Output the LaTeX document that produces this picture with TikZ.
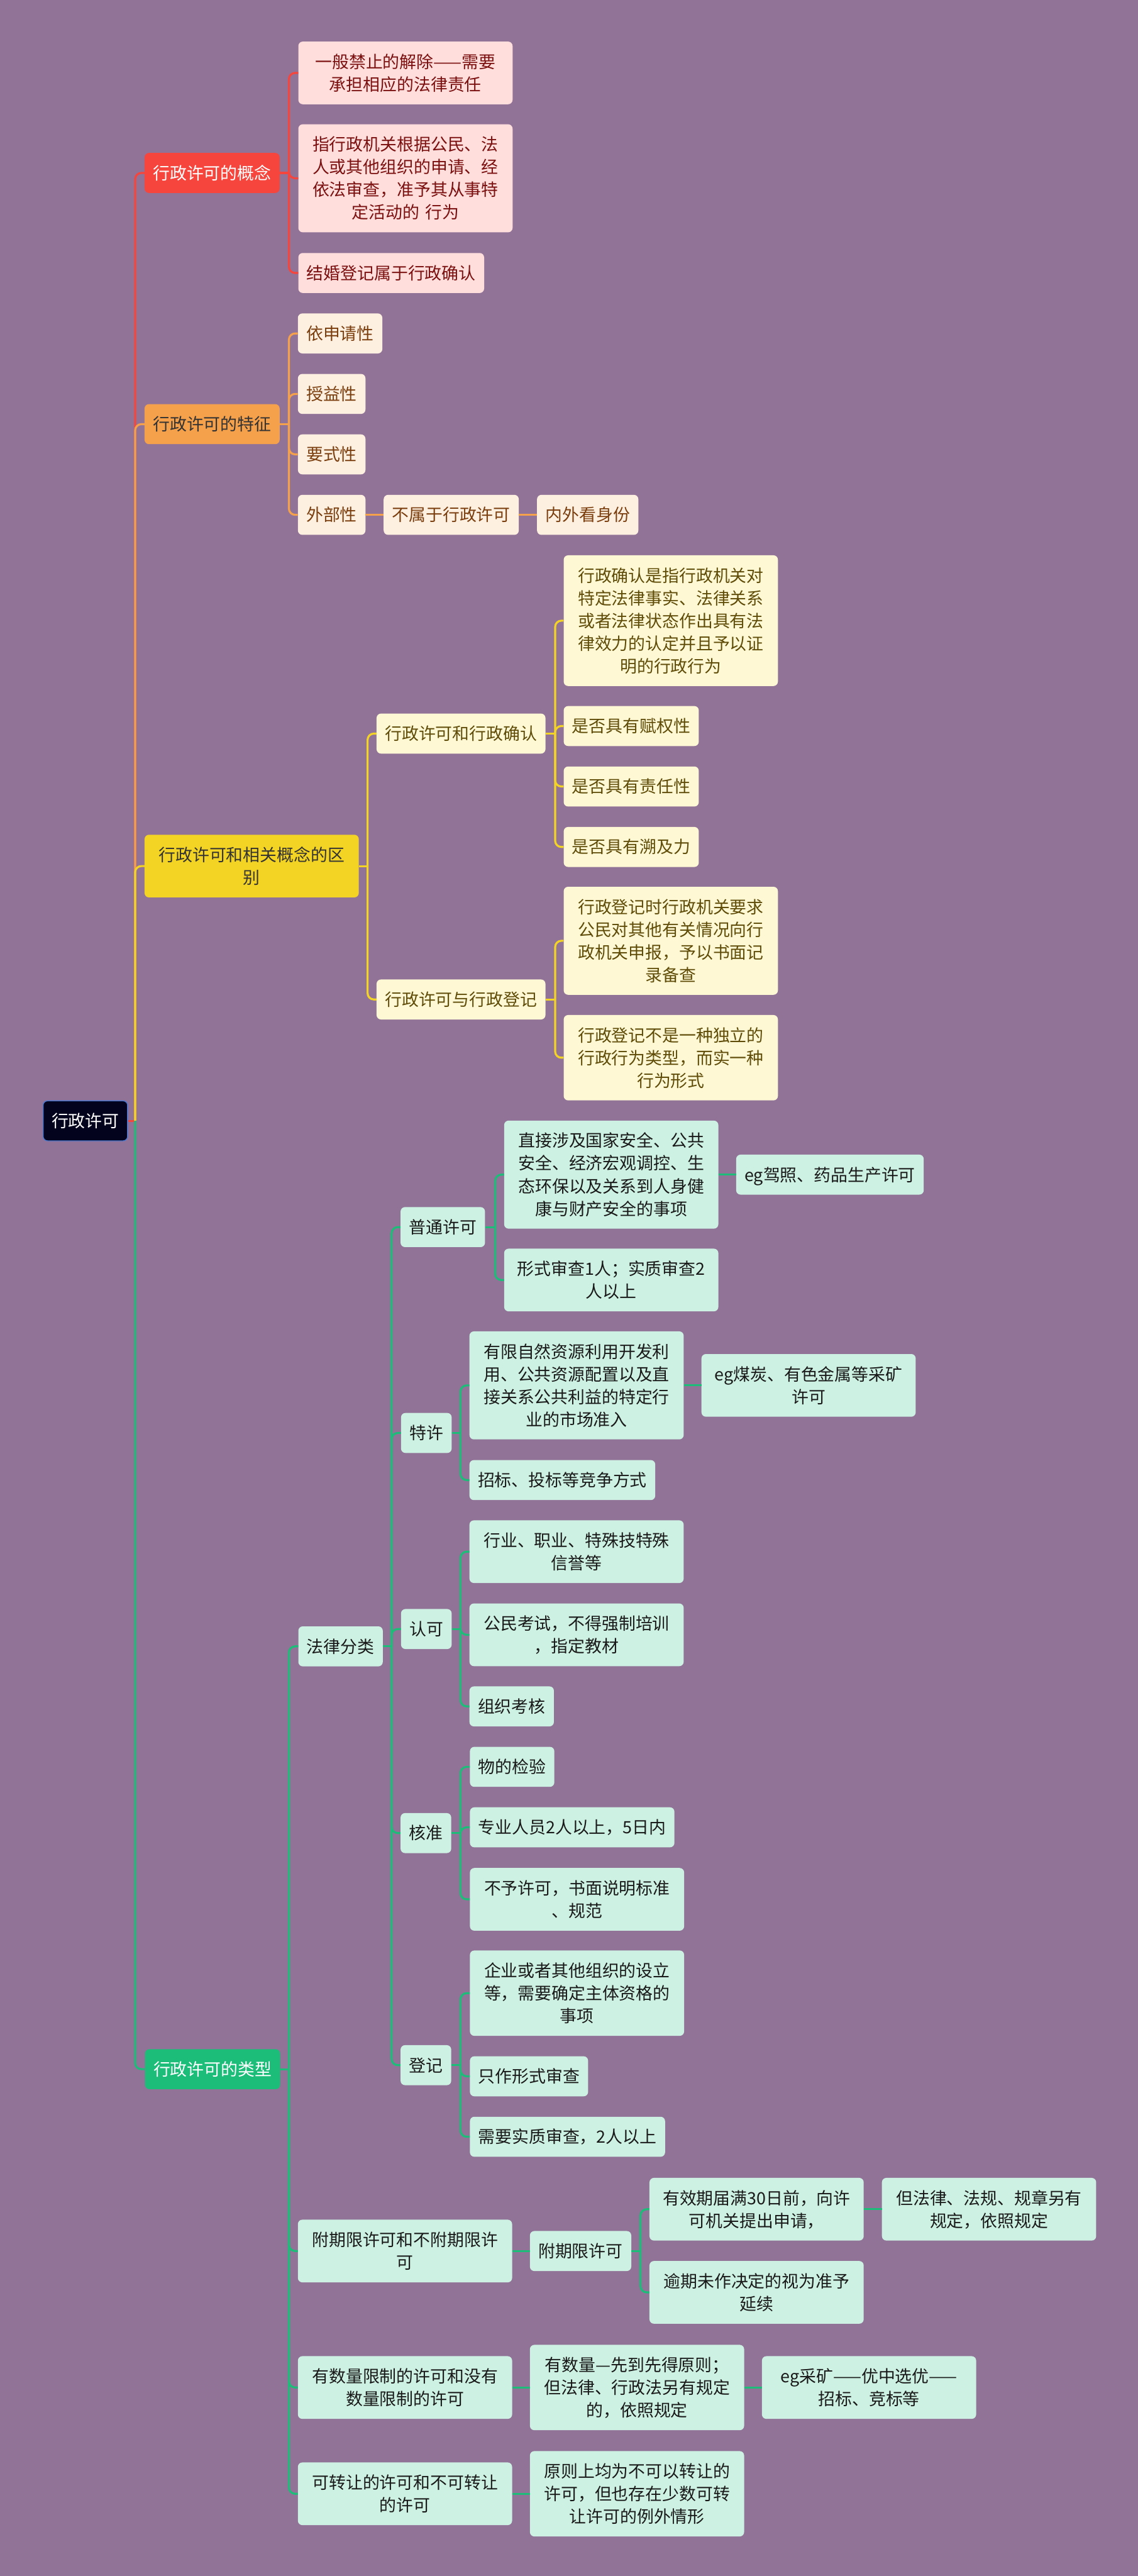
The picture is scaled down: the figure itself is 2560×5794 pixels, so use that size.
\documentclass[tikz,border=0pt]{standalone}
\usepackage{fontspec}
\newfontfamily\cjk{Noto Sans CJK SC}

\definecolor{bgc}{HTML}{927398}
\definecolor{redc}{HTML}{F5453D}
\definecolor{redfill}{HTML}{FFDEDC}
\definecolor{redtext}{HTML}{7B1010}
\definecolor{orc}{HTML}{F5A04B}
\definecolor{orfill}{HTML}{FEF0E0}
\definecolor{ortext}{HTML}{7A3E0E}
\definecolor{yec}{HTML}{F3D323}
\definecolor{yefill}{HTML}{FFF8D4}
\definecolor{yetext}{HTML}{5E4C08}
\definecolor{grc}{HTML}{1BBD79}
\definecolor{grfill}{HTML}{CDF2E3}
\definecolor{rootfill}{HTML}{03031E}
\definecolor{rootline}{HTML}{4A78CF}

\newcommand{\lnstrut}{\rule[-11pt]{0pt}{51pt}}

\begin{document}
\begin{tikzpicture}[x=1pt,y=-1pt,
  box/.style={rounded corners=10pt, inner xsep=19pt, inner ysep=19.5pt, anchor=west,
    font=\cjk\fontsize{38}{51}\selectfont,
    execute at begin node=\lnstrut, execute at end node=\lnstrut},
  wide/.style={text width=444pt, align=center},
  lnk/.style={line width=4.5pt, rounded corners=14pt},
  rootbox/.style={box, fill=rootfill, draw=rootline, line width=2pt, text=white},
  redbox/.style={box, fill=redc, text=white},
  redleaf/.style={box, fill=redfill, text=redtext},
  orbox/.style={box, fill=orc, text=black!80},
  orleaf/.style={box, fill=orfill, text=ortext},
  yebox/.style={box, fill=yec, text=black!80},
  yeleaf/.style={box, fill=yefill, text=yetext},
  grbox/.style={box, fill=grc, text=white},
  grleaf/.style={box, fill=grfill, text=black!90}]

  \fill[bgc] (0,0) rectangle (2560,5794);
  \useasboundingbox (0,0) rectangle (2560,5794);

  \coordinate (rtJ) at (304, 2521);
  \coordinate (gnJ) at (650, 389);
  \coordinate (tzJ) at (650, 954);
  \coordinate (qbJ) at (827, 1948);
  \coordinate (qb1J) at (1249, 1650);
  \coordinate (qb2J) at (1249, 2248);
  \coordinate (lxJ) at (650, 4654);
  \coordinate (lx1J) at (881, 3703);
  \coordinate (ptJ) at (1114, 2760);
  \coordinate (txJ) at (1036, 3223);
  \coordinate (rkJ) at (1036, 3664);
  \coordinate (hzJ) at (1036, 4123);
  \coordinate (djJ) at (1036, 4645);
  \coordinate (lx21J) at (1441, 5063);

  \node[rootbox] (rt) at (96, 2521) {行政许可};

  % concept
  \node[redbox] (gn) at (325, 389) {行政许可的概念};
  \node[redleaf, wide] (gn1) at (671, 164) {一般禁止的解除——需要\\承担相应的法律责任};
  \node[redleaf, wide] (gn2) at (671, 401) {指行政机关根据公民、法\\人或其他组织的申请、经\\依法审查，准予其从事特\\定活动的 行为};
  \node[redleaf] (gn3) at (671, 614) {结婚登记属于行政确认};

  % features
  \node[orbox] (tz) at (325, 954) {行政许可的特征};
  \node[orleaf] (tz1) at (670, 750) {依申请性};
  \node[orleaf] (tz2) at (670, 886) {授益性};
  \node[orleaf] (tz3) at (670, 1022) {要式性};
  \node[orleaf] (tz4) at (670, 1158) {外部性};
  \node[orleaf] (tz5) at (863, 1158) {不属于行政许可};
  \node[orleaf] (tz6) at (1208, 1158) {内外看身份};

  % differences
  \node[yebox, wide] (qb) at (325, 1948) {行政许可和相关概念的区\\别};
  \node[yeleaf] (qb1) at (847, 1650) {行政许可和行政确认};
  \node[yeleaf] (qb2) at (847, 2248) {行政许可与行政登记};
  \node[yeleaf, wide] (qb11) at (1268, 1396) {行政确认是指行政机关对\\特定法律事实、法律关系\\或者法律状态作出具有法\\律效力的认定并且予以证\\明的行政行为};
  \node[yeleaf] (qb12) at (1268, 1633) {是否具有赋权性};
  \node[yeleaf] (qb13) at (1268, 1769) {是否具有责任性};
  \node[yeleaf] (qb14) at (1268, 1905) {是否具有溯及力};
  \node[yeleaf, wide] (qb21) at (1268, 2116) {行政登记时行政机关要求\\公民对其他有关情况向行\\政机关申报，予以书面记\\录备查};
  \node[yeleaf, wide] (qb22) at (1268, 2379) {行政登记不是一种独立的\\行政行为类型，而实一种\\行为形式};

  % types
  \node[grbox] (lx) at (326, 4654) {行政许可的类型};
  \node[grleaf] (lx1) at (671, 3703) {法律分类};
  \node[grleaf, wide] (lx2) at (670, 5063) {附期限许可和不附期限许\\可};
  \node[grleaf, wide] (lx3) at (670, 5370) {有数量限制的许可和没有\\数量限制的许可};
  \node[grleaf, wide] (lx4) at (670, 5609) {可转让的许可和不可转让\\的许可};

  \node[grleaf] (pt) at (901, 2760) {普通许可};
  \node[grleaf, wide] (pt1) at (1134, 2642) {直接涉及国家安全、公共\\安全、经济宏观调控、生\\态环保以及关系到人身健\\康与财产安全的事项};
  \node[grleaf] (pt11) at (1656, 2642) {eg驾照、药品生产许可};
  \node[grleaf, wide] (pt2) at (1134, 2879) {形式审查1人；实质审查2\\人以上};

  \node[grleaf] (tx) at (902, 3223) {特许};
  \node[grleaf, wide] (tx1) at (1056, 3116) {有限自然资源利用开发利\\用、公共资源配置以及直\\接关系公共利益的特定行\\业的市场准入};
  \node[grleaf, wide] (tx11) at (1578, 3116) {eg煤炭、有色金属等采矿\\许可};
  \node[grleaf] (tx2) at (1056, 3329) {招标、投标等竞争方式};

  \node[grleaf] (rk) at (902, 3664) {认可};
  \node[grleaf, wide] (rk1) at (1056, 3490) {行业、职业、特殊技特殊\\信誉等};
  \node[grleaf, wide] (rk2) at (1056, 3677) {公民考试，不得强制培训\\，指定教材};
  \node[grleaf] (rk3) at (1056, 3838) {组织考核};

  \node[grleaf] (hz) at (901, 4123) {核准};
  \node[grleaf] (hz1) at (1057, 3974) {物的检验};
  \node[grleaf] (hz2) at (1057, 4110) {专业人员2人以上，5日内};
  \node[grleaf, wide] (hz3) at (1057, 4272) {不予许可，书面说明标准\\、规范};

  \node[grleaf] (dj) at (901, 4645) {登记};
  \node[grleaf, wide] (dj1) at (1057, 4483) {企业或者其他组织的设立\\等，需要确定主体资格的\\事项};
  \node[grleaf] (dj2) at (1057, 4670) {只作形式审查};
  \node[grleaf] (dj3) at (1057, 4806) {需要实质审查，2人以上};

  \node[grleaf] (lx21) at (1192, 5063) {附期限许可};
  \node[grleaf, wide] (lx211) at (1461, 4969) {有效期届满30日前，向许\\可机关提出申请，};
  \node[grleaf, wide] (lx2111) at (1984, 4969) {但法律、法规、规章另有\\规定，依照规定};
  \node[grleaf, wide] (lx212) at (1461, 5156) {逾期未作决定的视为准予\\延续};
  \node[grleaf, wide] (lx31) at (1192, 5370) {有数量—先到先得原则；\\但法律、行政法另有规定\\的，依照规定};
  \node[grleaf, wide] (lx311) at (1714, 5370) {eg采矿——优中选优——\\招标、竞标等};
  \node[grleaf, wide] (lx41) at (1192, 5609) {原则上均为不可以转让的\\许可，但也存在少数可转\\让许可的例外情形};

  % links
  \draw[lnk, redc] (rt.east) -- (rtJ);
  \draw[lnk, redc] (rtJ) |- (gn.west);
  \draw[lnk, redc] (gn.east) -- (gnJ);
  \draw[lnk, redc] (gnJ) |- (gn1.west);
  \draw[lnk, redc] (gnJ) |- (gn2.west);
  \draw[lnk, redc] (gnJ) |- (gn3.west);

  \draw[lnk, orc] (rtJ) |- (tz.west);
  \draw[lnk, orc] (tz.east) -- (tzJ);
  \draw[lnk, orc] (tzJ) |- (tz1.west);
  \draw[lnk, orc] (tzJ) |- (tz2.west);
  \draw[lnk, orc] (tzJ) |- (tz3.west);
  \draw[lnk, orc] (tzJ) |- (tz4.west);
  \draw[lnk, orc] (tz4.east) -- (tz5.west);
  \draw[lnk, orc] (tz5.east) -- (tz6.west);

  \draw[lnk, yec] (rtJ) |- (qb.west);
  \draw[lnk, yec] (qb.east) -- (qbJ);
  \draw[lnk, yec] (qbJ) |- (qb1.west);
  \draw[lnk, yec] (qbJ) |- (qb2.west);
  \draw[lnk, yec] (qb1.east) -- (qb1J);
  \draw[lnk, yec] (qb1J) |- (qb11.west);
  \draw[lnk, yec] (qb1J) |- (qb12.west);
  \draw[lnk, yec] (qb1J) |- (qb13.west);
  \draw[lnk, yec] (qb1J) |- (qb14.west);
  \draw[lnk, yec] (qb2.east) -- (qb2J);
  \draw[lnk, yec] (qb2J) |- (qb21.west);
  \draw[lnk, yec] (qb2J) |- (qb22.west);

  \draw[lnk, grc] (rtJ) |- (lx.west);
  \draw[lnk, grc] (lx.east) -- (lxJ);
  \draw[lnk, grc] (lxJ) |- (lx1.west);
  \draw[lnk, grc] (lxJ) |- (lx2.west);
  \draw[lnk, grc] (lxJ) |- (lx3.west);
  \draw[lnk, grc] (lxJ) |- (lx4.west);
  \draw[lnk, grc] (lx1.east) -- (lx1J);
  \draw[lnk, grc] (lx1J) |- (pt.west);
  \draw[lnk, grc] (lx1J) |- (tx.west);
  \draw[lnk, grc] (lx1J) |- (rk.west);
  \draw[lnk, grc] (lx1J) |- (hz.west);
  \draw[lnk, grc] (lx1J) |- (dj.west);
  \draw[lnk, grc] (pt.east) -- (ptJ);
  \draw[lnk, grc] (ptJ) |- (pt1.west);
  \draw[lnk, grc] (ptJ) |- (pt2.west);
  \draw[lnk, grc] (pt1.east) -- (pt11.west);
  \draw[lnk, grc] (tx.east) -- (txJ);
  \draw[lnk, grc] (txJ) |- (tx1.west);
  \draw[lnk, grc] (txJ) |- (tx2.west);
  \draw[lnk, grc] (tx1.east) -- (tx11.west);
  \draw[lnk, grc] (rk.east) -- (rkJ);
  \draw[lnk, grc] (rkJ) |- (rk1.west);
  \draw[lnk, grc] (rkJ) |- (rk2.west);
  \draw[lnk, grc] (rkJ) |- (rk3.west);
  \draw[lnk, grc] (hz.east) -- (hzJ);
  \draw[lnk, grc] (hzJ) |- (hz1.west);
  \draw[lnk, grc] (hzJ) |- (hz2.west);
  \draw[lnk, grc] (hzJ) |- (hz3.west);
  \draw[lnk, grc] (dj.east) -- (djJ);
  \draw[lnk, grc] (djJ) |- (dj1.west);
  \draw[lnk, grc] (djJ) |- (dj2.west);
  \draw[lnk, grc] (djJ) |- (dj3.west);
  \draw[lnk, grc] (lx2.east) -- (lx21.west);
  \draw[lnk, grc] (lx21.east) -- (lx21J);
  \draw[lnk, grc] (lx21J) |- (lx211.west);
  \draw[lnk, grc] (lx21J) |- (lx212.west);
  \draw[lnk, grc] (lx211.east) -- (lx2111.west);
  \draw[lnk, grc] (lx3.east) -- (lx31.west);
  \draw[lnk, grc] (lx31.east) -- (lx311.west);
  \draw[lnk, grc] (lx4.east) -- (lx41.west);
\end{tikzpicture}
\end{document}
